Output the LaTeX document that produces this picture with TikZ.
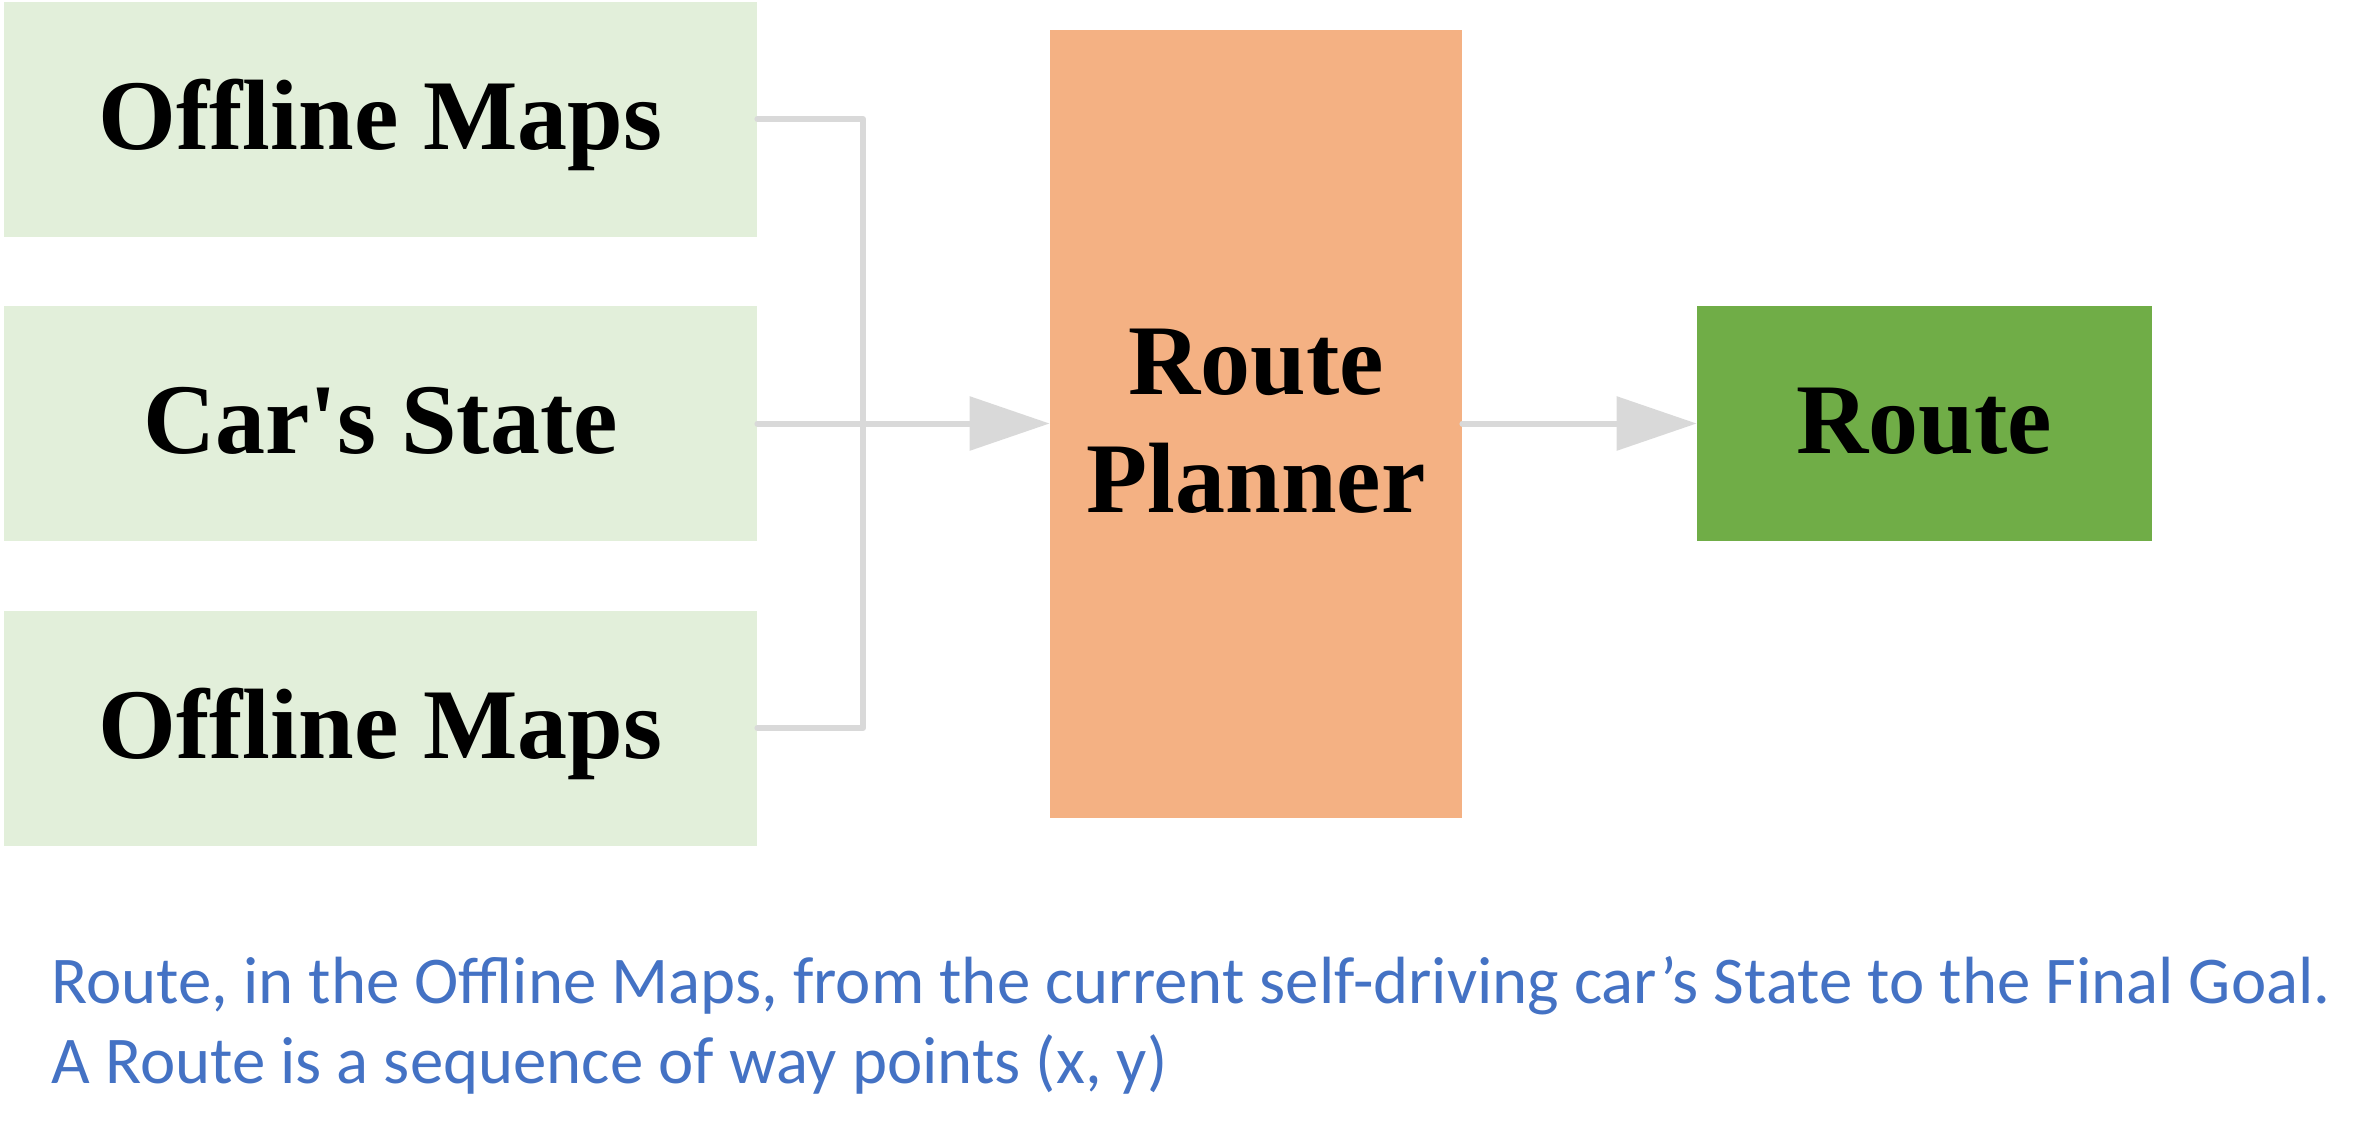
\documentclass[tikz,border=0pt]{standalone}
\usepackage{fontspec}
\setmainfont{Liberation Serif}
\newfontfamily\notefont{Carlito}
\usetikzlibrary{math}
\usetikzlibrary{arrows.meta}
\definecolor{mapgreen}{HTML}{E2EFDA}
\definecolor{planorange}{HTML}{F4B183}
\definecolor{routegreen}{HTML}{70AD47}
\definecolor{wiregray}{HTML}{D9D9D9}
\definecolor{noteblue}{HTML}{4472C4}
\newcommand{\tstrut}{\rule[-12pt]{0pt}{54pt}}
\tikzset{block/.style={fill=#1, draw=none, inner sep=0pt, text=black, font=\fontsize{50}{59}\selectfont\bfseries},
	onerow/.style={text height=42pt, text depth=12pt},
	inbox/.style={block=mapgreen, onerow, minimum width=376.5pt, minimum height=117.5pt},
	wire/.style={draw=wiregray, line width=3pt, line cap=round, line join=round},
	feed/.style={wire, -{Triangle[length=40pt, width=26.5pt]}},
	note/.style={anchor=base west, inner sep=0pt, text=noteblue, font=\notefont\fontsize{33.4}{40}\selectfont}}

\begin{document}
\begin{tikzpicture}[x=0.5pt,y=-0.5pt]
	\tikzmath{\ix=380.5; \ya=119; \yb=423.5; \yc=728; \px=1256; \rx=1924.5; \bx=863; \nx=51;}
	\useasboundingbox (0,0) rectangle (2380,1135);
	\node[inbox] (maps1) at (\ix,\ya) {Offline Maps};
	\node[inbox] (state) at (\ix,\yb) {Car\textquotesingle s State};
	\node[inbox] (maps2) at (\ix,\yc) {Offline Maps};
	\node[block=planorange, align=center, minimum width=206pt, minimum height=394pt] (planner) at (\px,\yb) {\tstrut Route\\Planner\tstrut};
	\node[block=routegreen, onerow, minimum width=227.5pt, minimum height=117.5pt] (route) at (\rx,\yb) {Route};
	\coordinate (bus) at (\bx,\yb);
	\draw[wire] (maps1.east) -- (maps1.east -| bus) -- (maps2.east -| bus) -- (maps2.east);
	\draw[feed] (state.east) -- (planner.west);
	\draw[feed] (planner.east) -- (route.west);
	\node[note] (note1) at (\nx,1003) {Route, in the Offline Maps, from the current self-driving car’s State to the Final Goal.};
	\node[note] (note2) at (\nx,1083) {A Route is a sequence of way points (x, y)};
\end{tikzpicture}
\end{document}
